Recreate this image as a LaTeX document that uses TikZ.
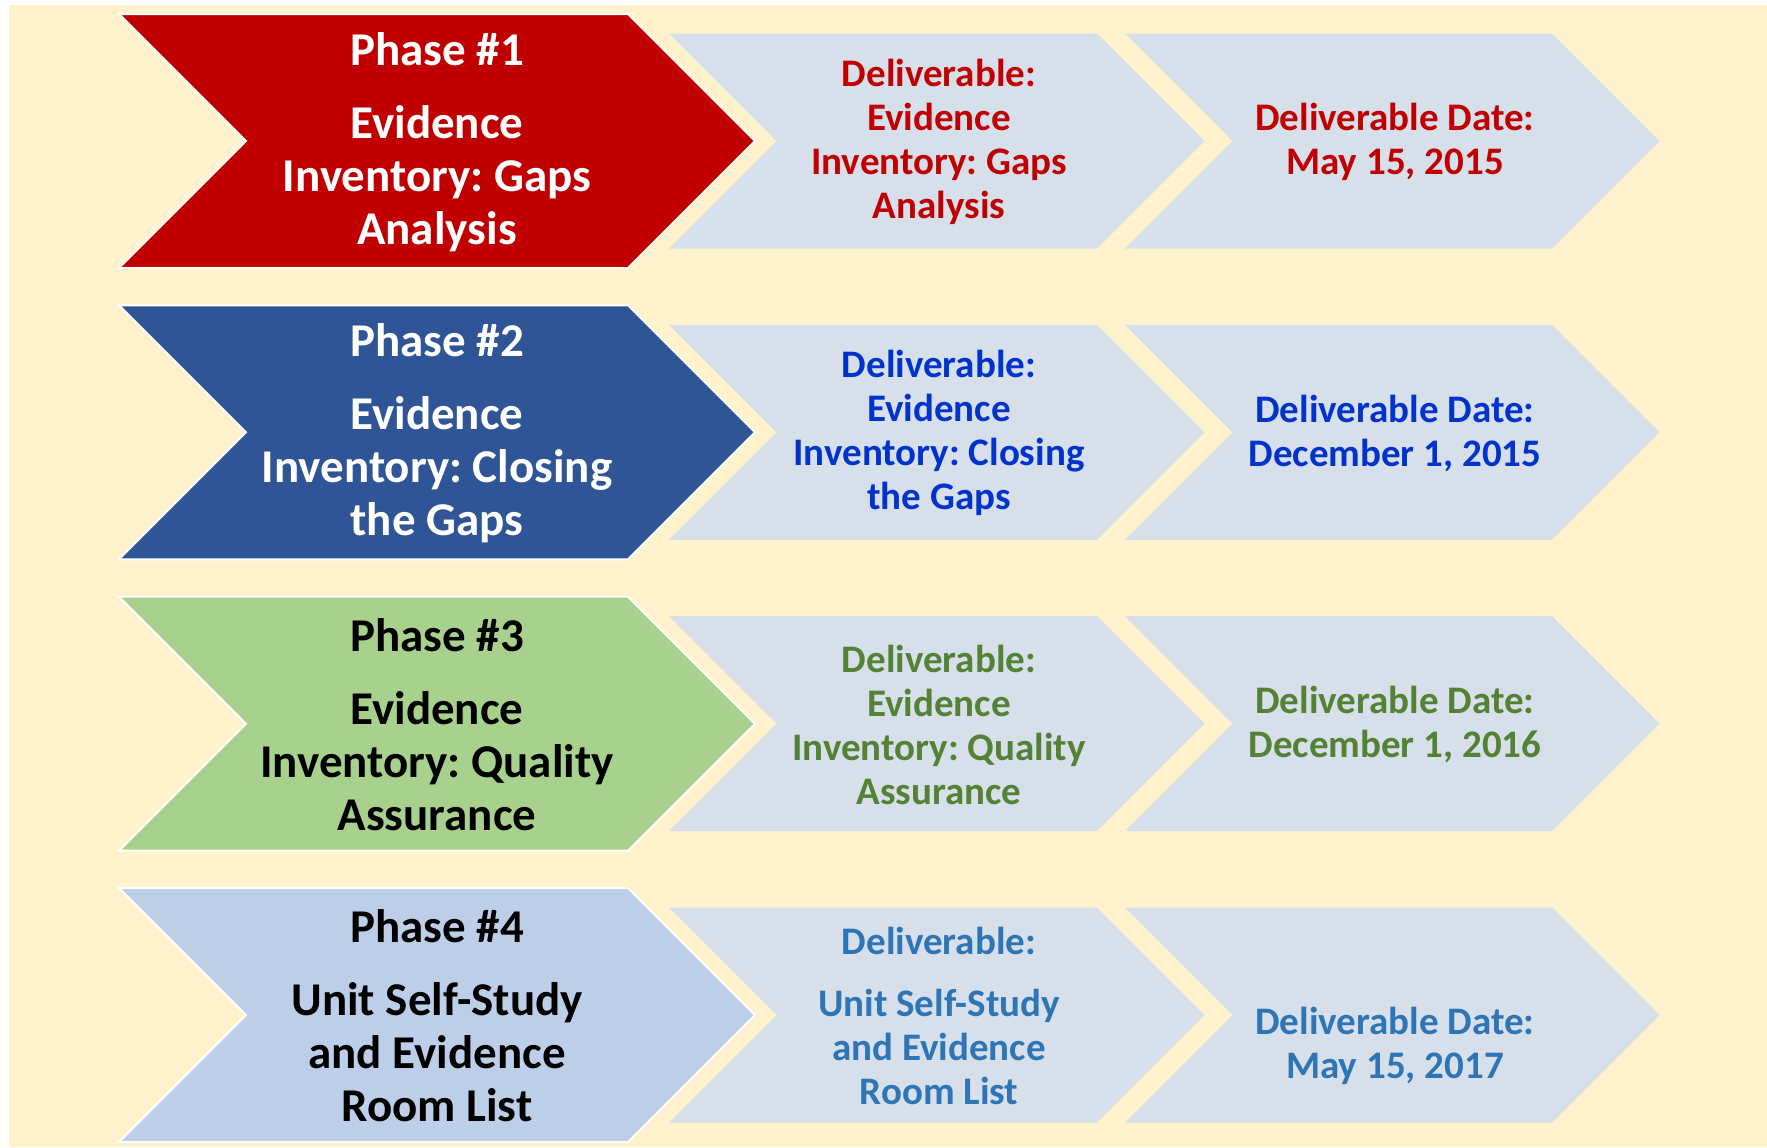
\documentclass[tikz,border=0pt]{standalone}
\usepackage{fontspec}
\setmainfont{Carlito}
\usepackage{xcolor}
\usetikzlibrary{positioning}
\frenchspacing

\definecolor{cream}{HTML}{FFF2CC}
\definecolor{phaseRed}{HTML}{C00000}
\definecolor{phaseBlue}{HTML}{2F5597}
\definecolor{phaseGreen}{HTML}{A9D18E}
\definecolor{phaseSky}{HTML}{BDCEE8}
\definecolor{delivGray}{HTML}{D6DFEA}
\definecolor{textRed}{HTML}{C00000}
\definecolor{textBlue}{HTML}{0033CC}
\definecolor{textGreen}{HTML}{548235}
\definecolor{textSky}{HTML}{2E75B6}

\begin{document}
\begin{tikzpicture}[x=0.5pt, y=-0.5pt,
    phase-arrow/.style={draw=white, line width=1pt, line join=miter},
    deliv-arrow/.style={fill=delivGray},
    phase-text/.style={align=center, font=\fontsize{23.5}{26.5}\selectfont\bfseries},
    deliv-text/.style={align=center, font=\fontsize{19.5}{22}\selectfont\bfseries}]
    \useasboundingbox (0,0) rectangle (1767,1147);
    \fill[white] (0,0) rectangle (1767,1147);
    \fill[cream] (9,5) rectangle (1767,1147);

    % phase arrows
    \filldraw[phase-arrow, fill=phaseRed] (119,14) -- ++(509,0) -- ++(127,127) -- ++(-127,127) -- ++(-509,0) -- ++(127,-127) -- cycle;
    \filldraw[phase-arrow, fill=phaseBlue] (119,305.3) -- ++(509,0) -- ++(127,127) -- ++(-127,127) -- ++(-509,0) -- ++(127,-127) -- cycle;
    \filldraw[phase-arrow, fill=phaseGreen] (119,596.7) -- ++(509,0) -- ++(127,127) -- ++(-127,127) -- ++(-509,0) -- ++(127,-127) -- cycle;
    \filldraw[phase-arrow, fill=phaseSky] (119,888) -- ++(509,0) -- ++(127,127) -- ++(-127,127) -- ++(-509,0) -- ++(127,-127) -- cycle;

    % deliverable arrows
    \fill[deliv-arrow] (669,33.5) -- ++(428,0) -- ++(107.5,107.5) -- ++(-107.5,107.5) -- ++(-428,0) -- ++(107.5,-107.5) -- cycle;
    \fill[deliv-arrow] (1125,33.5) -- ++(427,0) -- ++(107.5,107.5) -- ++(-107.5,107.5) -- ++(-427,0) -- ++(107.5,-107.5) -- cycle;
    \fill[deliv-arrow] (669,324.8) -- ++(428,0) -- ++(107.5,107.5) -- ++(-107.5,107.5) -- ++(-428,0) -- ++(107.5,-107.5) -- cycle;
    \fill[deliv-arrow] (1125,324.8) -- ++(427,0) -- ++(107.5,107.5) -- ++(-107.5,107.5) -- ++(-427,0) -- ++(107.5,-107.5) -- cycle;
    \fill[deliv-arrow] (669,616.2) -- ++(428,0) -- ++(107.5,107.5) -- ++(-107.5,107.5) -- ++(-428,0) -- ++(107.5,-107.5) -- cycle;
    \fill[deliv-arrow] (1125,616.2) -- ++(427,0) -- ++(107.5,107.5) -- ++(-107.5,107.5) -- ++(-427,0) -- ++(107.5,-107.5) -- cycle;
    \fill[deliv-arrow] (669,907.5) -- ++(428,0) -- ++(107.5,107.5) -- ++(-107.5,107.5) -- ++(-428,0) -- ++(107.5,-107.5) -- cycle;
    \fill[deliv-arrow] (1125,907.5) -- ++(427,0) -- ++(107.5,107.5) -- ++(-107.5,107.5) -- ++(-427,0) -- ++(107.5,-107.5) -- cycle;

    % phase texts
    \node [phase-text, text=white] (phase1) at (437,142) {Phase \#1\\[10pt] Evidence\\ Inventory: Gaps\\ Analysis};
    \node [phase-text, text=white] (phase2) at (437,433.3) {Phase \#2\\[10pt] Evidence\\ Inventory: Closing\\ the Gaps};
    \node [phase-text, text=black] (phase3) at (437,724.7) {Phase \#3\\[10pt] Evidence\\ Inventory: Quality\\ Assurance};
    \node [phase-text, text=black] (phase4) at (437,1016) {Phase \#4\\[10pt] Unit Self-Study\\ and Evidence\\ Room List};

    % deliverables
    \node [deliv-text, text=textRed] (deliv1) at (939,142) {Deliverable:\\ Evidence\\ Inventory: Gaps\\ Analysis};
    \node [deliv-text, text=textBlue] (deliv2) at (939,433.3) {Deliverable:\\ Evidence\\ Inventory: Closing\\ the Gaps};
    \node [deliv-text, text=textGreen] (deliv3) at (939,724.7) {Deliverable:\\ Evidence\\ Inventory: Quality\\ Assurance};
    \node [deliv-text, text=textSky] (deliv4) at (939,1016) {Deliverable:\\[9pt] Unit Self-Study\\ and Evidence\\ Room List};

    % dates
    \node [deliv-text, text=textRed] (date1) at (1395,142) {Deliverable Date:\\ May 15, 2015};
    \node [deliv-text, text=textBlue] (date2) at (1395,433.3) {Deliverable Date:\\ December 1, 2015};
    \node [deliv-text, text=textGreen] (date3) at (1395,724.7) {Deliverable Date:\\ December 1, 2016};
    \node [deliv-text, text=textSky] (date4) at (1395,1046) {Deliverable Date:\\ May 15, 2017};
\end{tikzpicture}
\end{document}
